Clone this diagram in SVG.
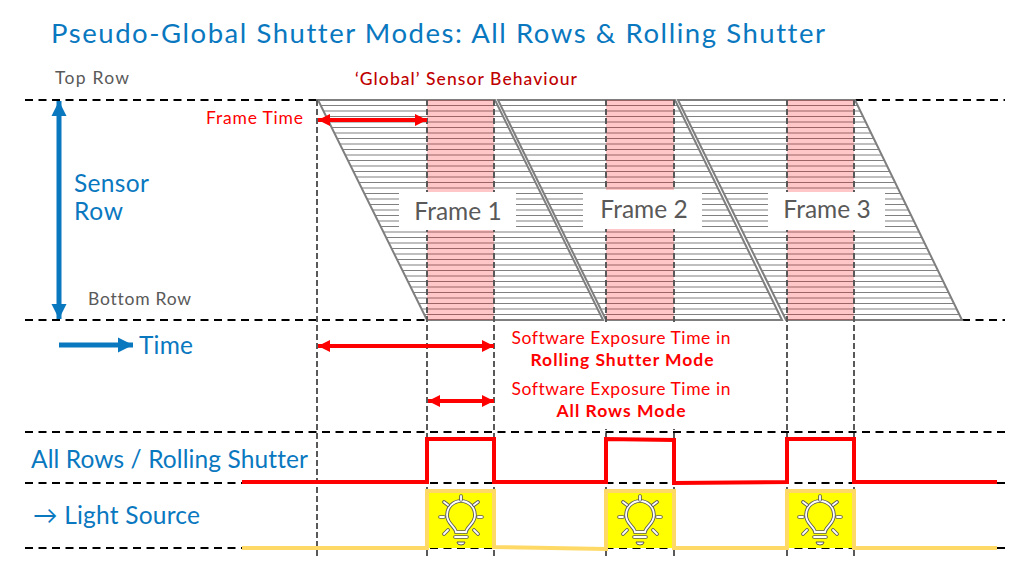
<svg xmlns="http://www.w3.org/2000/svg" width="1021" height="587" viewBox="0 0 1021 587">
<style>
text{font-family:"Lato","Open Sans","Liberation Sans",sans-serif;font-variant-ligatures:none}
.blue{fill:#0a78bf}
.grey{fill:#595959}
.red{fill:#fe0000}
.frame{font-size:24.5px;fill:#595959;text-anchor:middle}
.exp{font-size:17.5px;fill:#fe0000;text-anchor:middle}
.dash{fill:none;stroke:#000;stroke-width:2;stroke-dasharray:8 5.5}
.vdash{fill:none;stroke:#595959;stroke-width:2;stroke-dasharray:6 3}
.edge{fill:none;stroke:#7f7f7f;stroke-width:2;stroke-linejoin:miter}
.rowlines{fill:none;stroke:#808080;stroke-width:1.15}
.bulb{fill:none;stroke:#595959;stroke-width:3.6;stroke-linecap:round}
.bulb2{fill:none;stroke:#fff;stroke-width:1.8;stroke-linecap:round}
</style>
<defs>
<clipPath id="clip-1"><path d="M318 100H495L603 320H427Z"/></clipPath>
<clipPath id="clip-2"><path d="M498 100H675L782 320H606Z"/></clipPath>
<clipPath id="clip-3"><path d="M678 100H855L962 320H786Z"/></clipPath>
<!-- sensor rows, one line per row -->
<path id="rows" class="rowlines" d="M310 105.5H970M310 111H970M310 116.5H970M310 122H970M310 127.5H970M310 133H970M310 138.5H970M310 144H970M310 149.5H970M310 155H970M310 160.5H970M310 166H970M310 171.5H970M310 177H970M310 182.5H970M310 188H970M310 193.5H970M310 199H970M310 204.5H970M310 210H970M310 215.5H970M310 221H970M310 226.5H970M310 232H970M310 237.5H970M310 243H970M310 248.5H970M310 254H970M310 259.5H970M310 265H970M310 270.5H970M310 276H970M310 281.5H970M310 287H970M310 292.5H970M310 298H970M310 303.5H970M310 309H970M310 314.5H970"/>
<marker id="rh" markerUnits="userSpaceOnUse" markerWidth="14" markerHeight="14" refX="12" refY="7" orient="auto-start-reverse"><path d="M0 1L12 7L0 13z" fill="#fe0000"/></marker>
<marker id="bh" markerUnits="userSpaceOnUse" markerWidth="15" markerHeight="16" refX="15" refY="8" orient="auto-start-reverse"><path d="M0 0.5L15 8L0 15.5z" fill="#0a78bf"/></marker>
<g id="bulbicon">
<path d="M-5 14C-6 8-14 6-14 -3A14 14 0 0 1 14 -3C14 6 6 8 5 14Z" class="bulb"/>
<path d="M-5 14C-6 8-14 6-14 -3A14 14 0 0 1 14 -3C14 6 6 8 5 14Z" class="bulb2"/>
<path d="M0 -22V-18M-17 -16L-13 -13M17 -16L13 -13M-21 -1H-17M21 -1H17M-17 16L-13 12M17 16L13 12M-6 19H6" class="bulb"/>
<path d="M0 -22V-18M-17 -16L-13 -13M17 -16L13 -13M-21 -1H-17M21 -1H17M-17 16L-13 12M17 16L13 12M-6 19H6" class="bulb2"/>
<path d="M-4 24H4A4 3 0 0 1 -4 24Z" fill="#fff" stroke="#595959" stroke-width="1"/>
</g>
</defs>
<rect width="1021" height="587" fill="#fff"/>

<g id="title"><text x="51" y="43" font-size="27.5" class="blue" textLength="774">Pseudo-Global Shutter Modes: All Rows &amp; Rolling Shutter</text></g>

<g id="rules">
<path class="dash" d="M25 100H318M855 100H1005M25 320H427M962 320H1005M25 432H1005M25 483H1005M25 548H1005"/>
</g>

<g id="frame-1">
<g clip-path="url(#clip-1)"><use href="#rows"/></g>
<path class="edge" d="M318 100H495L603 320H427Z"/>
<rect x="427" y="100" width="67" height="220" fill="#ff0000" fill-opacity=".22"/>
</g>
<g id="frame-2">
<g clip-path="url(#clip-2)"><use href="#rows"/></g>
<path class="edge" d="M498 100H675L782 320H606Z"/>
<rect x="606" y="100" width="68" height="220" fill="#ff0000" fill-opacity=".22"/>
</g>
<g id="frame-3">
<g clip-path="url(#clip-3)"><use href="#rows"/></g>
<path class="edge" d="M678 100H855L962 320H786Z"/>
<rect x="787" y="100" width="67" height="220" fill="#ff0000" fill-opacity=".22"/>
</g>

<g id="time-markers">
<path class="vdash" d="M317 100V558M427 100V558M494 100V558M606 100V558M674 100V558M787 100V558M854 100V558"/>
</g>

<g id="label-frame-1"><rect x="399" y="192" width="117" height="38" fill="#fff"/><text x="458" y="220" class="frame">Frame 1</text></g>
<g id="label-frame-2"><rect x="583" y="190" width="119" height="39" fill="#fff"/><text x="644" y="218" class="frame">Frame 2</text></g>
<g id="label-frame-3"><rect x="768" y="192" width="117" height="38" fill="#fff"/><text x="827" y="218" class="frame">Frame 3</text></g>

<g id="axis-labels">
<text x="55" y="84" font-size="17.5" class="grey" textLength="74">Top Row</text>
<text x="88" y="305" font-size="17.5" class="grey" textLength="103">Bottom Row</text>
<text x="355" y="85" font-size="17.5" fill="#c00000" font-weight="500" textLength="222">‘Global’ Sensor Behaviour</text>
<text x="206" y="124" font-size="17.5" class="red" textLength="97">Frame Time</text>
<text x="74" y="192" font-size="24.5" class="blue" textLength="75">Sensor</text>
<text x="74" y="220" font-size="24.5" class="blue" textLength="49">Row</text>
<text x="139" y="354" font-size="24.5" class="blue" textLength="54">Time</text>
<text x="31" y="468" font-size="24.5" class="blue" textLength="277">All Rows / Rolling Shutter</text>
<text x="33" y="524" font-size="24.5" class="blue" textLength="167">→ Light Source</text>
</g>

<g id="exposure-notes">
<rect x="506" y="323" width="236" height="106" fill="#fff"/>
<text x="621" y="344" class="exp" textLength="219">Software Exposure Time in</text>
<text x="622" y="366" class="exp" font-weight="700" textLength="183">Rolling Shutter Mode</text>
<text x="621" y="395" class="exp" textLength="219">Software Exposure Time in</text>
<text x="621" y="417" class="exp" font-weight="700" textLength="129">All Rows Mode</text>
</g>

<g id="connectors" fill="none">
<path d="M59 101V319" stroke="#0a78bf" stroke-width="5" marker-start="url(#bh)" marker-end="url(#bh)"/>
<path d="M59 345H133" stroke="#0a78bf" stroke-width="5" marker-end="url(#bh)"/>
<g stroke="#fe0000" stroke-width="4" marker-start="url(#rh)" marker-end="url(#rh)">
<path d="M318 120H427"/>
<path d="M318 346H494"/>
<path d="M428 401H494"/>
</g>
</g>

<g id="light-pulses">
<rect x="427" y="491" width="67" height="57" fill="#ffff00"/>
<rect x="606" y="491" width="68" height="57" fill="#ffff00"/>
<rect x="787" y="491" width="67" height="57" fill="#ffff00"/>
</g>
<g id="bulb-1"><use href="#bulbicon" x="461" y="518"/></g>
<g id="bulb-2"><use href="#bulbicon" x="640" y="518"/></g>
<g id="bulb-3"><use href="#bulbicon" x="820" y="518"/></g>

<g id="signals" fill="none" stroke-width="4">
<path stroke="#ffd966" d="M242 548H427V491H494V547L606 549V491H674V548H787V491H854V548H997"/>
<path stroke="#fe0000" d="M242 482H427V439H494V482H606V439L674 440V483L787 482V439H854V482H997"/>
</g>
</svg>
